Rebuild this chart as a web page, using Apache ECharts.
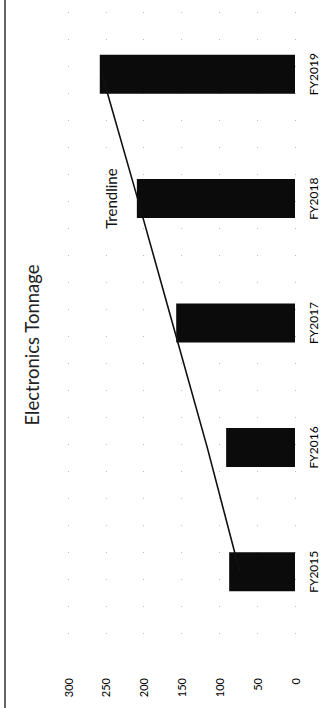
<!DOCTYPE html>
<html>
<head>
<meta charset="utf-8">
<script src="https://cdn.jsdelivr.net/npm/echarts@6/dist/echarts.min.js"></script>
<style>
  html, body { margin: 0; padding: 0; background: #fff; overflow: hidden; width: 320px; height: 708px; }
  #chart {
    position: absolute; left: 0; top: 0;
    width: 708px; height: 320px;
    transform-origin: 0 0;
    transform: translate(0, 708px) rotate(-90deg);
  }
</style>
</head>
<body>
<div id="chart"></div>
<script>
// Data
const titleText = 'Electronics Tonnage';
const categories = ['FY2015', 'FY2016', 'FY2017', 'FY2018', 'FY2019'];
const tonnage = [87, 91, 157, 209, 258];
const trendline = [73, 116, 162, 208, 255];
const trendLabel = 'Trendline';
const trendLabelIndex = 3;
const valueTicks = [0, 50, 100, 150, 200, 250, 300];

const chart = echarts.init(document.getElementById('chart'), null, { renderer: 'svg' });
const font = 'Lato, "Open Sans", sans-serif';

const trendData = trendline.map((v, i) => i === trendLabelIndex
  ? { value: v, label: { show: true, formatter: trendLabel, position: 'top', distance: 19,
      fontFamily: font, fontSize: 15, color: '#111' } }
  : v);

chart.setOption({
  backgroundColor: '#fff',
  animation: false,
  title: {
    text: titleText,
    left: 358, top: 17, textAlign: 'center',
    textStyle: { fontFamily: font, fontSize: 18.5, fontWeight: 'normal', color: '#222' }
  },
  grid: { left: 74, right: 12, top: 68, bottom: 25 },
  xAxis: {
    type: 'category',
    data: categories,
    boundaryGap: true,
    axisLine: { show: false },
    axisTick: { show: false },
    axisLabel: { margin: 12, fontFamily: font, fontSize: 12, color: '#000' }
  },
  yAxis: {
    type: 'value',
    min: valueTicks[0], max: valueTicks[valueTicks.length - 1], interval: 50,
    axisLine: { show: false },
    axisTick: { show: false },
    axisLabel: { margin: 44, align: 'right', fontFamily: font, fontSize: 11, color: '#000' },
    splitLine: { show: true, lineStyle: { color: '#bbb', width: 1, type: [1, 26] } }
  },
  graphic: [{
    type: 'line', silent: true,
    shape: { x1: 0, y1: 5, x2: 708, y2: 5 },
    style: { stroke: '#333', lineWidth: 1.5 }
  }],
  series: [{
    type: 'bar',
    data: tonnage,
    barWidth: 39,
    itemStyle: { color: '#0b0b0b' }
  }, {
    type: 'line',
    data: trendData,
    symbol: 'circle',
    symbolSize: 1,
    showSymbol: true,
    itemStyle: { color: '#111' },
    lineStyle: { color: '#111', width: 1.6 },
    z: 5
  }]
});
</script>
</body>
</html>
